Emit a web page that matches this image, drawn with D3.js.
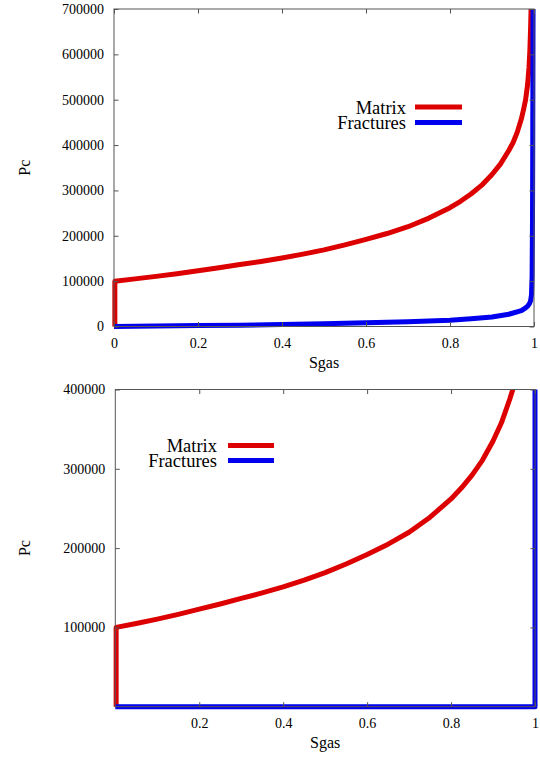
<!DOCTYPE html>
<html>
<head>
<meta charset="utf-8">
<script src="https://cdn.jsdelivr.net/npm/d3@7"></script>
<style>
  html, body { margin: 0; padding: 0; background: #fff; }
  svg { display: block; }
</style>
</head>
<body>
<svg id="chart" width="540" height="758"></svg>
<script>
// ---------- data ----------
const seriesNames = ["Matrix", "Fractures"];

// Matrix capillary pressure curve (shared by both panels)
const sgasMatrix = [0.002, 0.002, 0.05, 0.1, 0.15, 0.2, 0.25, 0.3, 0.35, 0.4, 0.45, 0.5, 0.55, 0.6, 0.65, 0.7, 0.75, 0.8, 0.825, 0.85, 0.875, 0.9, 0.92, 0.94, 0.95, 0.96, 0.97, 0.975, 0.98, 0.985, 0.988, 0.99, 0.992, 0.994, 0.996];
const pcMatrix   = [0, 100000, 105000, 110500, 116500, 123000, 129500, 136500, 143500, 151000, 159500, 169000, 180000, 192000, 205000, 220000, 239000, 262000, 276000, 292000, 311000, 335000, 358000, 388000, 405000, 428000, 458000, 478000, 500000, 535000, 570000, 605000, 660000, 740000, 840000];

// Fractures curve, upper panel
const sgasFractures = [0, 0.1, 0.2, 0.3, 0.4, 0.5, 0.6, 0.7, 0.8, 0.85, 0.9, 0.94, 0.97, 0.98, 0.985, 0.989, 0.992, 0.994, 0.9955, 0.9965, 0.997, 0.998];
const pcFractures   = [0, 1000, 2000, 3000, 4500, 6000, 8000, 10500, 14000, 17000, 21000, 27000, 35000, 41000, 45000, 50000, 57000, 70000, 110000, 250000, 400000, 800000];

// Fractures curve, lower panel
const sgasFracturesLow = [0, 1, 1];
const pcFracturesLow   = [0, 0, 450000];

// tick values
const xTicksTop = [0, 0.2, 0.4, 0.6, 0.8, 1];
const yTicksTop = [0, 100000, 200000, 300000, 400000, 500000, 600000, 700000];
const xTicksLow = [0.2, 0.4, 0.6, 0.8, 1];
const yTicksLow = [100000, 200000, 300000, 400000];

const xLabel = "Sgas";
const yLabel = "Pc";

// ---------- drawing ----------
const FONT = "'Liberation Serif', 'Times New Roman', Tinos, Times, 'DejaVu Serif', serif";
const svg = d3.select("#chart");
const colors = ["#dd0000", "#0000ee"];
const borderColor = "#555";

function zip(xs, ys) { return xs.map((x, i) => [x, ys[i]]); }

function panel(cfg) {
  const { x0, x1, y0, y1, yMax, xTicks, yTicks, series, legend, id } = cfg;
  const x = d3.scaleLinear().domain([0, 1]).range([x0, x1]);
  const y = d3.scaleLinear().domain([0, yMax]).range([y1, y0]);
  const g = svg.append("g");

  svg.append("defs").append("clipPath").attr("id", id)
    .append("rect").attr("x", x0 - 4).attr("y", y0).attr("width", x1 - x0 + 8).attr("height", y1 - y0 + 4);

  const line = d3.line().x(d => x(d[0])).y(d => y(d[1]));
  series.forEach((s, i) => {
    g.append("path").datum(s)
      .attr("clip-path", `url(#${id})`)
      .attr("d", line)
      .attr("fill", "none")
      .attr("stroke", colors[i])
      .attr("stroke-width", 5)
      .attr("stroke-linejoin", "round");
  });

  const ax = g.append("g").attr("transform", `translate(0,${y1})`)
    .call(d3.axisBottom(x).tickValues(xTicks).tickSize(-4.5).tickFormat(d3.format("")));
  ax.selectAll("text").attr("y", 21).attr("dy", 0);
  const ay = g.append("g").attr("transform", `translate(${x0},0)`)
    .call(d3.axisLeft(y).tickValues(yTicks).tickSize(-4.5).tickPadding(10).tickFormat(d3.format("d")));
  const at = g.append("g").attr("transform", `translate(0,${y0})`)
    .call(d3.axisTop(x).tickValues(xTicks).tickSize(-4.5).tickFormat(""));
  const ar = g.append("g").attr("transform", `translate(${x1},0)`)
    .call(d3.axisRight(y).tickValues(yTicks).tickSize(-4.5).tickFormat(""));
  [ax, ay, at, ar].forEach(a => {
    a.select(".domain").remove();
    a.selectAll("line").attr("stroke", borderColor);
    a.attr("font-family", null).attr("font-size", null);
    a.selectAll("text").style("font-family", FONT).style("font-size", "14px").attr("fill", "#000");
  });

  g.append("rect").attr("x", x0).attr("y", y0).attr("width", x1 - x0).attr("height", y1 - y0)
    .attr("fill", "none").attr("stroke", borderColor).attr("stroke-width", 1);

  g.append("text").attr("x", (x0 + x1) / 2).attr("y", y1 + 41.5)
    .attr("text-anchor", "middle").style("font-family", FONT).style("font-size", "16px").text(xLabel);
  g.append("text").attr("transform", `translate(30,${(y0 + y1) / 2}) rotate(-90)`)
    .attr("text-anchor", "middle").style("font-family", FONT).style("font-size", "16px").text(yLabel);

  seriesNames.forEach((name, i) => {
    const ly = legend.y + i * legend.dy;
    g.append("text").attr("x", legend.textX).attr("y", ly + 6.5)
      .attr("text-anchor", "end").style("font-family", FONT).style("font-size", "18.5px").text(name);
    g.append("line").attr("x1", legend.lx1).attr("x2", legend.lx2)
      .attr("y1", ly).attr("y2", ly)
      .attr("stroke", colors[i]).attr("stroke-width", 5);
  });
}

panel({
  id: "clipTop",
  x0: 114, x1: 534, y0: 9, y1: 326.5, yMax: 700000,
  xTicks: xTicksTop, yTicks: yTicksTop,
  series: [zip(sgasMatrix, pcMatrix), zip(sgasFractures, pcFractures)],
  legend: { textX: 406, lx1: 415, lx2: 462, y: 107, dy: 15.5 }
});

panel({
  id: "clipLow",
  x0: 115.3, x1: 535, y0: 389.5, y1: 706.7, yMax: 400000,
  xTicks: xTicksLow, yTicks: yTicksLow,
  series: [zip(sgasMatrix, pcMatrix), zip(sgasFracturesLow, pcFracturesLow)],
  legend: { textX: 217, lx1: 228, lx2: 274, y: 445.5, dy: 15 }
});
</script>
</body>
</html>
